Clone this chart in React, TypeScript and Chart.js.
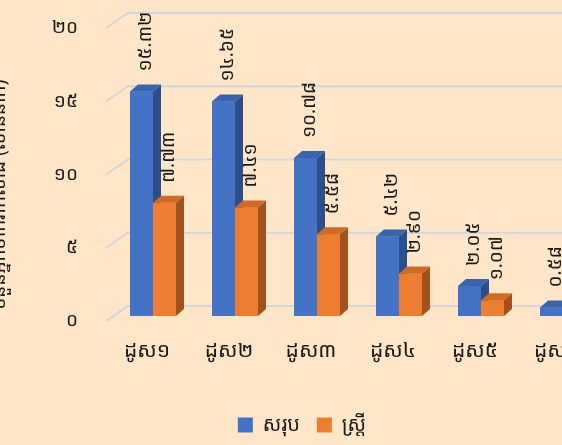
import React, { useEffect, useRef } from "react";
import { Chart, registerables } from "chart.js";

Chart.register(...registerables);

const categories = ["ដូស១", "ដូស២", "ដូស៣", "ដូស៤", "ដូស៥", "ដូស៦"];
const totalValues = [15.32, 14.65, 10.78, 5.42, 2.05, 0.58];
const womenValues = [7.73, 7.41, 5.58, 2.9, 1.07, 0.26];
const seriesNames = ["សរុប", "ស្ត្រី"];
const yTickValues = [0, 5, 10, 15, 20];
const yTitle = "ចំនួនអ្នកចាក់វ៉ាក់សាំង (លាននាក់)";

const FONT = "'Noto Sans Khmer', 'Khmer OS', 'Khmer OS System', 'Noto Sans', sans-serif";
const BG = "#FFE6C8";
const FRONT = ["#4472C4", "#ED7D31"];
const TOP = ["#3A63AC", "#D06B27"];
const SIDE = ["#2C4E8A", "#A2531D"];
const DX = 8;
const DY = -7;

const khmerDigits = (s: string) =>
  s.replace(/[0-9]/g, (d) => String.fromCharCode(0x17e0 + Number(d)));

const bar3d = {
  id: "bar3d",
  beforeDraw(chart: any) {
    const { ctx, width, height } = chart;
    ctx.save();
    ctx.fillStyle = BG;
    ctx.fillRect(0, 0, width, height);
    ctx.restore();
  },
  beforeDatasetsDraw(chart: any) {
    const { ctx, chartArea, width } = chart;
    const y = chart.scales.y;
    ctx.save();
    ctx.strokeStyle = "#D2D5DA";
    ctx.lineWidth = 2;
    yTickValues.forEach((v) => {
      const py = y.getPixelForValue(v);
      ctx.beginPath();
      ctx.moveTo(chartArea.left - 6, py + 5);
      ctx.lineTo(chartArea.left + 16, py - 10);
      ctx.lineTo(width, py - 10);
      ctx.stroke();
    });
    ctx.restore();
  },
  afterDatasetsDraw(chart: any) {
    const { ctx } = chart;
    const metas = chart.data.datasets.map((_: any, i: number) => chart.getDatasetMeta(i));
    ctx.save();
    categories.forEach((_, j) => {
      metas.forEach((meta: any, i: number) => {
        const el = meta.data[j];
        if (!el) return;
        const { x, y, base, width } = el.getProps(["x", "y", "base", "width"], true);
        const l = x - width / 2;
        const r = x + width / 2;
        ctx.fillStyle = FRONT[i];
        ctx.fillRect(l, y, width, base - y);
        ctx.fillStyle = SIDE[i];
        ctx.beginPath();
        ctx.moveTo(r, y);
        ctx.lineTo(r + DX, y + DY);
        ctx.lineTo(r + DX, base + DY);
        ctx.lineTo(r, base);
        ctx.closePath();
        ctx.fill();
        ctx.fillStyle = TOP[i];
        ctx.beginPath();
        ctx.moveTo(l, y);
        ctx.lineTo(l + DX, y + DY);
        ctx.lineTo(r + DX, y + DY);
        ctx.lineTo(r, y);
        ctx.closePath();
        ctx.fill();
      });
    });
    ctx.fillStyle = "#1a1a1a";
    ctx.font = `19px ${FONT}`;
    ctx.textAlign = "left";
    ctx.textBaseline = "middle";
    chart.data.datasets.forEach((ds: any, i: number) => {
      metas[i].data.forEach((el: any, j: number) => {
        const { x, y } = el.getProps(["x", "y"], true);
        const txt = khmerDigits(Number(ds.data[j]).toFixed(2));
        ctx.save();
        ctx.translate(x + 4, y - 20);
        ctx.rotate(-Math.PI / 2);
        ctx.fillText(txt, 0, 0);
        ctx.restore();
      });
    });
    ctx.restore();
  },
  afterDraw(chart: any) {
    const { ctx, chartArea } = chart;
    ctx.save();
    ctx.fillStyle = "#1a1a1a";
    ctx.font = `19px ${FONT}`;
    ctx.textAlign = "center";
    ctx.textBaseline = "middle";
    ctx.translate(0, (chartArea.top + chartArea.bottom) / 2 + 25);
    ctx.rotate(-Math.PI / 2);
    ctx.fillText(yTitle, 0, 0);
    ctx.restore();
  },
};

export default function App() {
  const ref = useRef<HTMLCanvasElement | null>(null);
  useEffect(() => {
    if (!ref.current) return;
    const chart = new Chart(ref.current, {
      type: "bar",
      data: {
        labels: categories,
        datasets: [
          { label: seriesNames[0], data: totalValues, backgroundColor: FRONT[0] },
          { label: seriesNames[1], data: womenValues, backgroundColor: FRONT[1] },
        ],
      },
      options: {
        animation: false,
        responsive: false,
        devicePixelRatio: 1,
        layout: { padding: { top: 23, right: 22, left: 0, bottom: 0 } },
        datasets: { bar: { categoryPercentage: 46 / 82, barPercentage: 1 } },
        scales: {
          x: {
            grid: { display: false, drawTicks: false },
            border: { display: false },
            ticks: {
              padding: 22,
              labelOffset: -6,
              color: "#1a1a1a",
              font: { family: FONT, size: 21 },
              maxRotation: 0,
            },
            afterFit: (s: any) => {
              s.height = 82;
              s.paddingLeft = 0;
              s.paddingRight = 0;
            },
          },
          y: {
            min: 0,
            max: 20,
            grid: { display: false, drawTicks: false },
            border: { display: false },
            ticks: {
              stepSize: 5,
              padding: 34,
              labelOffset: 5,
              color: "#1a1a1a",
              font: { family: FONT, size: 19 },
              callback: (v: any) => khmerDigits(String(v)),
            },
            afterFit: (s: any) => {
              s.width = 112;
              s.paddingTop = 0;
              s.paddingBottom = 0;
            },
          },
        },
        plugins: {
          legend: {
            position: "bottom",
            labels: {
              boxWidth: 15,
              boxHeight: 15,
              padding: 17,
              color: "#1a1a1a",
              font: { family: FONT, size: 20 },
            },
          },
          tooltip: { enabled: false },
        },
      },
      plugins: [bar3d],
    } as any);
    return () => chart.destroy();
  }, []);
  return (
    <div
      style={{
        position: "fixed",
        left: 0,
        top: 0,
        width: 562,
        height: 445,
        overflow: "hidden",
        background: BG,
      }}
    >
      <canvas ref={ref} width={626} height={445} style={{ display: "block" }} />
    </div>
  );
}
